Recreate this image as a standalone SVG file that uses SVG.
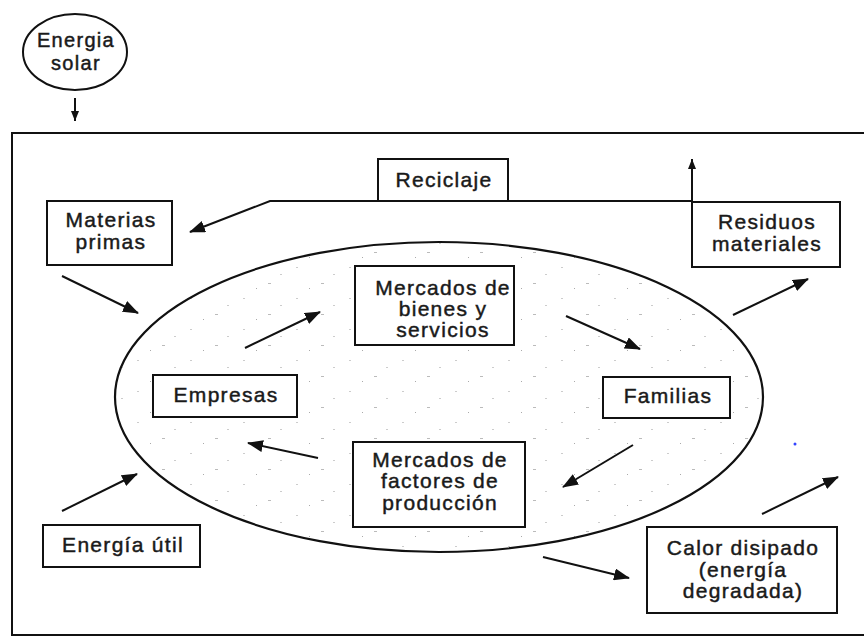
<svg xmlns="http://www.w3.org/2000/svg" width="864" height="637" viewBox="0 0 864 637">
  <defs>
    <marker id="ah" markerUnits="userSpaceOnUse" markerWidth="16" markerHeight="12" refX="15" refY="6" orient="auto">
      <path d="M0,0 L16,6 L0,12 z" fill="#111"/>
    </marker>
    <marker id="ahs" markerUnits="userSpaceOnUse" markerWidth="10" markerHeight="8" refX="10" refY="4" orient="auto">
      <path d="M0,0 L10,4 L0,8 z" fill="#111"/>
    </marker>
    <pattern id="stip" patternUnits="userSpaceOnUse" width="53" height="31">
      <rect x="3" y="4" width="3" height="1" fill="#bbb"/>
      <rect x="31" y="19" width="2" height="1" fill="#ccc"/>
      <rect x="44" y="9" width="1" height="1" fill="#aaa"/>
      <rect x="15" y="26" width="2" height="1" fill="#ccc"/>
    </pattern>
    <style>
      .box { fill: #fff; stroke: #111; stroke-width: 2; }
      .conn { fill: none; stroke: #111; stroke-width: 2; }
      .lbl { font-family: "Liberation Sans", Arial, sans-serif; font-size: 21px; letter-spacing: 1.3px; fill: #1a1a1a; stroke: #1a1a1a; stroke-width: 0.45px; text-anchor: middle; }
    </style>
  </defs>
  <rect width="864" height="637" fill="#fff"/>
  <rect x="12" y="133" width="870" height="502" fill="none" stroke="#111" stroke-width="2"/>
  <g id="economia">
    <ellipse cx="439" cy="397" rx="324" ry="155" fill="url(#stip)" stroke="#111" stroke-width="2.2"/>
  </g>
  <g id="energia-solar">
    <ellipse cx="75" cy="52" rx="52" ry="38" fill="#fff" stroke="#111" stroke-width="2"/>
    <text class="lbl" x="76" y="47" style="font-size:20px">Energia</text>
    <text class="lbl" x="76" y="70" style="font-size:20px">solar</text>
  </g>
  <g id="connectors">
    <line class="conn" x1="75" y1="98" x2="75" y2="121" marker-end="url(#ahs)" stroke-width="1.6"/>
    <polyline class="conn" points="692,201 270,201 190,232" marker-end="url(#ah)"/>
    <line class="conn" x1="692" y1="202" x2="692" y2="159" marker-end="url(#ahs)"/>
    <line class="conn" x1="62" y1="276" x2="138" y2="313" marker-end="url(#ah)"/>
    <line class="conn" x1="733" y1="315" x2="808" y2="279" marker-end="url(#ah)"/>
    <line class="conn" x1="62" y1="511" x2="137" y2="474" marker-end="url(#ah)"/>
    <line class="conn" x1="543" y1="557" x2="629" y2="578" marker-end="url(#ah)"/>
    <line class="conn" x1="762" y1="514" x2="838" y2="477" marker-end="url(#ah)"/>
    <line class="conn" x1="245" y1="348" x2="320" y2="312" marker-end="url(#ah)"/>
    <line class="conn" x1="566" y1="316" x2="640" y2="349" marker-end="url(#ah)"/>
    <line class="conn" x1="633" y1="445" x2="563" y2="487" marker-end="url(#ah)"/>
    <line class="conn" x1="318" y1="458" x2="248" y2="443" marker-end="url(#ah)"/>
  </g>
  <g id="reciclaje">
    <rect class="box" x="378" y="159" width="130" height="42"/>
    <text class="lbl" x="444" y="187">Reciclaje</text>
  </g>
  <g id="materias-primas">
    <rect class="box" x="47" y="201" width="125" height="64"/>
    <text class="lbl" x="111" y="227">Materias</text>
    <text class="lbl" x="111" y="249">primas</text>
  </g>
  <g id="residuos-materiales">
    <rect class="box" x="692" y="202" width="148" height="65"/>
    <text class="lbl" x="767" y="229">Residuos</text>
    <text class="lbl" x="767" y="251">materiales</text>
  </g>
  <g id="mercados-bienes">
    <rect class="box" x="355" y="266" width="159" height="79"/>
    <text class="lbl" x="443" y="295">Mercados de</text>
    <text class="lbl" x="443" y="316">bienes y</text>
    <text class="lbl" x="443" y="337">servicios</text>
  </g>
  <g id="empresas">
    <rect class="box" x="153" y="375" width="144" height="42"/>
    <text class="lbl" x="226" y="402">Empresas</text>
  </g>
  <g id="familias">
    <rect class="box" x="603" y="377" width="127" height="41"/>
    <text class="lbl" x="668" y="403">Familias</text>
  </g>
  <g id="mercados-factores">
    <rect class="box" x="353" y="442" width="172" height="85"/>
    <text class="lbl" x="440" y="467">Mercados de</text>
    <text class="lbl" x="440" y="488">factores de</text>
    <text class="lbl" x="440" y="510">producción</text>
  </g>
  <g id="energia-util">
    <rect class="box" x="43" y="525" width="157" height="42"/>
    <text class="lbl" x="123" y="552">Energía útil</text>
  </g>
  <g id="calor-disipado">
    <rect class="box" x="647" y="527" width="190" height="86"/>
    <text class="lbl" x="743" y="555">Calor disipado</text>
    <text class="lbl" x="743" y="577">(energía</text>
    <text class="lbl" x="743" y="598">degradada)</text>
  </g>
  <circle cx="795" cy="444" r="1.5" fill="#3344ff"/>
</svg>
